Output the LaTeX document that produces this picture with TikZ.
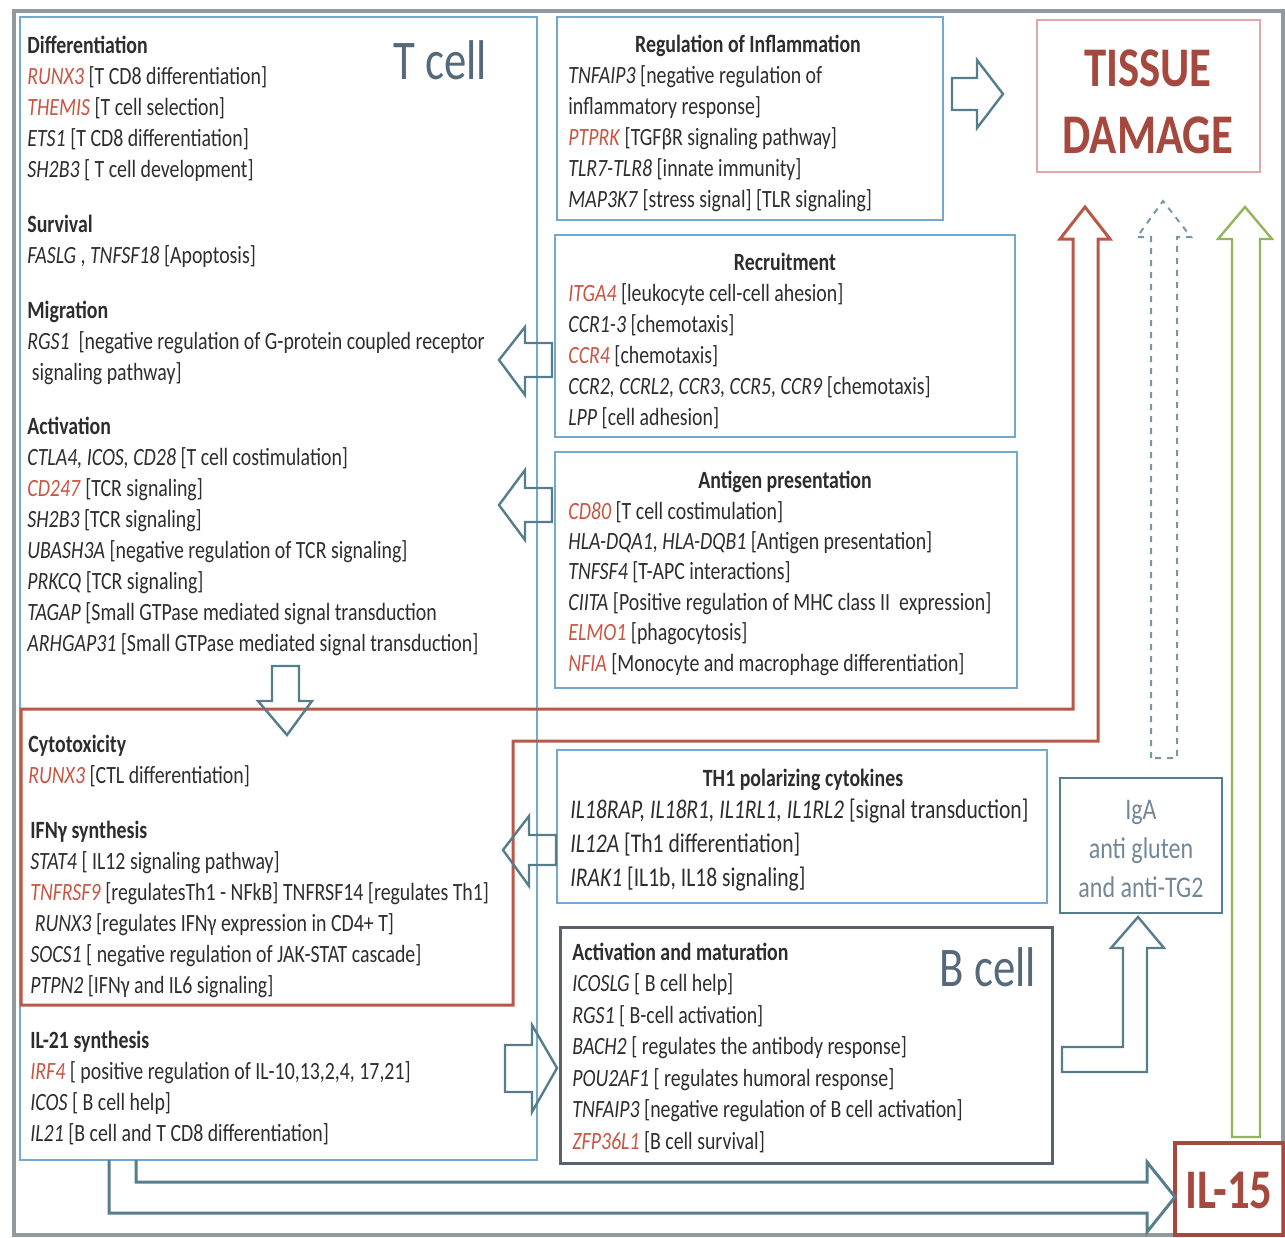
\documentclass[tikz,border=0pt]{standalone}
\usepackage{fontspec}
\setmainfont{Carlito}[FakeStretch=0.8]
\usepackage{xcolor}
\usepackage{tikz}

\definecolor{tblue}{RGB}{115,168,208}
\definecolor{arrgray}{RGB}{85,125,140}
\definecolor{redline}{RGB}{185,88,72}
\definecolor{genered}{RGB}{200,85,65}
\definecolor{tissuered}{RGB}{165,72,62}
\definecolor{pinkline}{RGB}{228,165,165}
\definecolor{greenline}{RGB}{145,182,90}
\definecolor{framegray}{RGB}{145,152,158}
\definecolor{bboxgray}{RGB}{88,98,108}
\definecolor{celltxt}{RGB}{85,105,120}
\definecolor{igatxt}{RGB}{115,135,150}
\definecolor{bodytxt}{RGB}{45,45,45}

\newcommand{\gn}[1]{\textit{#1}}
\newcommand{\rg}[1]{\textcolor{genered}{\textit{#1}}}

\begin{document}
\begin{tikzpicture}[x=0.5pt,y=-0.5pt,
  % base of a multi-line node = baseline of its last line
  txt/.style={anchor=base west,align=left,inner sep=0pt,text=bodytxt,font=\fontsize{12.4}{15.5}\selectfont},
  hd/.style={anchor=base,inner sep=0pt,text=bodytxt,font=\fontsize{12.4}{15.5}\selectfont\bfseries},
  big/.style={inner sep=0pt,text=celltxt,font=\fontsize{28}{30}\selectfont},
  blockarr/.style={draw=arrgray,line width=1.2pt,line join=miter}]
  \useasboundingbox (0,0) rectangle (1285,1237);
  % frames
  \draw[framegray,line width=2pt] (14,11) rectangle (1283,1235);
  \draw[tblue,line width=1pt] (20,17) rectangle (537,1160);
  \draw[tblue,line width=1.2pt] (557,17) rectangle (943,220);
  \draw[tblue,line width=1.2pt] (555,235) rectangle (1015,437);
  \draw[tblue,line width=1.2pt] (555,452) rectangle (1017,688);
  \draw[tblue,line width=1.2pt] (557,750) rectangle (1047,903);
  \draw[bboxgray,line width=1.5pt] (560,927) rectangle (1052,1163);
  \draw[pinkline,line width=0.8pt] (1037,20) rectangle (1260,172);
  \draw[arrgray,line width=1.2pt] (1060,778) rectangle (1222,913);
  \draw[tissuered,line width=2pt] (1175,1143) rectangle (1284,1235);

  % red box joined to its arrow
  \draw[redline,line width=1.5pt,line join=miter] (21,709) -- (1073,709) -- (1073,239) -- (1060,239)
    -- (1085,207) -- (1110,239) -- (1098,239) -- (1098,741) -- (513,741) -- (513,1005) -- (21,1005) -- cycle;
  \draw[arrgray!80,line width=1pt,dashed] (1151,758) -- (1151,237) -- (1137,237) -- (1163,201)
    -- (1191,237) -- (1177,237) -- (1177,758) -- cycle;
  \draw[greenline,line width=1.2pt,line join=miter] (1232,1137) -- (1232,239) -- (1218,239) -- (1245,207)
    -- (1272,239) -- (1260,239) -- (1260,1137) -- cycle;

  % block arrows
  \draw[blockarr] (952,78) -- (977,78) -- (977,60) -- (1003,94) -- (977,128) -- (977,110) -- (952,110) -- cycle;
  \draw[blockarr] (552,343) -- (525,343) -- (525,327) -- (499,360) -- (525,395) -- (525,377) -- (552,377) -- cycle;
  \draw[blockarr] (552,488) -- (525,488) -- (525,470) -- (499,505) -- (525,540) -- (525,522) -- (552,522) -- cycle;
  \draw[blockarr] (272,666) -- (299,666) -- (299,701) -- (312,701) -- (287,735) -- (258,701) -- (272,701) -- cycle;
  \draw[blockarr] (556,835) -- (529,835) -- (529,816) -- (503,850) -- (529,886) -- (529,865) -- (556,865) -- cycle;
  \draw[blockarr] (505,1045) -- (532,1045) -- (532,1025) -- (557,1068) -- (532,1112) -- (532,1092) -- (505,1092) -- cycle;
  \draw[blockarr] (1062,1047) -- (1123,1047) -- (1123,948) -- (1111,948) -- (1138,917) -- (1164,948)
    -- (1147,948) -- (1147,1072) -- (1062,1072) -- cycle;
  \draw[blockarr,line width=1.5pt] (136,1160) -- (136,1182) -- (1147,1182) -- (1147,1162) -- (1175,1197)
    -- (1147,1232) -- (1147,1213) -- (109,1213) -- (109,1160);

  % T cell side
  \node[big] (tlab) at (440,60) {T cell};
  \node[txt] (tdiff) at (27,177) {\textbf{Differentiation}\\
    \rg{RUNX3} [T CD8 differentiation]\\
    \rg{THEMIS} [T cell selection]\\
    \gn{ETS1} [T CD8 differentiation]\\
    \gn{SH2B3} [ T cell development]};
  \node[txt] (tsurv) at (27,263) {\textbf{Survival}\\
    \gn{FASLG} , \gn{TNFSF18} [Apoptosis]};
  \node[txt] (tmigr) at (27,380) {\textbf{Migration}\\
    \gn{RGS1}\ \ [negative regulation of G-protein coupled receptor\\
    \ signaling pathway]};
  \node[txt] (tact) at (27,651) {\textbf{Activation}\\
    \gn{CTLA4, ICOS, CD28} [T cell costimulation]\\
    \rg{CD247} [TCR signaling]\\
    \gn{SH2B3} [TCR signaling]\\
    \gn{UBASH3A} [negative regulation of TCR signaling]\\
    \gn{PRKCQ} [TCR signaling]\\
    \gn{TAGAP} [Small GTPase mediated signal transduction\\
    \gn{ARHGAP31} [Small GTPase mediated signal transduction]};
  \node[txt] (cyto) at (28,783) {\textbf{Cytotoxicity}\\
    \rg{RUNX3} [CTL differentiation]};
  \node[txt] (ifng) at (30,993) {\textbf{IFNγ synthesis}\\
    \gn{STAT4} [ IL12 signaling pathway]\\
    \rg{TNFRSF9} [regulatesTh1 - NFkB] TNFRSF14 [regulates Th1]\\
    \ \gn{RUNX3} [regulates IFNγ expression in CD4+ T]\\
    \gn{SOCS1} [ negative regulation of JAK-STAT cascade]\\
    \gn{PTPN2} [IFNγ and IL6 signaling]};
  \node[txt] (il21) at (30,1141) {\textbf{IL-21 synthesis}\\
    \rg{IRF4} [ positive regulation of IL-10,13,2,4, 17,21]\\
    \gn{ICOS} [ B cell help]\\
    \gn{IL21} [B cell and T CD8 differentiation]};

  % middle column
  \node[hd] (inflh) at (748,52) {Regulation of Inflammation};
  \node[txt] (infl) at (568,207) {\gn{TNFAIP3} [negative regulation of\\
    inflammatory response]\\
    \rg{PTPRK} [TGFβR signaling pathway]\\
    \gn{TLR7-TLR8} [innate immunity]\\
    \gn{MAP3K7} [stress signal] [TLR signaling]};
  \node[hd] (recrh) at (785,270) {Recruitment};
  \node[txt] (recr) at (568,425) {\rg{ITGA4} [leukocyte cell-cell ahesion]\\
    \gn{CCR1-3} [chemotaxis]\\
    \rg{CCR4} [chemotaxis]\\
    \gn{CCR2, CCRL2, CCR3, CCR5, CCR9} [chemotaxis]\\
    \gn{LPP} [cell adhesion]};
  \node[hd] (antih) at (785,488) {Antigen presentation};
  \node[txt,font=\fontsize{12.4}{15.2}\selectfont] (anti) at (568,671) {\rg{CD80} [T cell costimulation]\\
    \gn{HLA-DQA1, HLA-DQB1} [Antigen presentation]\\
    \gn{TNFSF4} [T-APC interactions]\\
    \gn{CIITA} [Positive regulation of MHC class II\ \ expression]\\
    \rg{ELMO1} [phagocytosis]\\
    \rg{NFIA} [Monocyte and macrophage differentiation]};
  \node[hd] (th1h) at (803,786) {TH1 polarizing cytokines};
  \node[txt,font=\fontsize{13.5}{17}\selectfont] (th1) at (570,886) {\gn{IL18RAP, IL18R1, IL1RL1, IL1RL2} [signal transduction]\\
    \gn{IL12A} [Th1 differentiation]\\
    \gn{IRAK1} [IL1b, IL18 signaling]};
  \node[big] (blab) at (988,967) {B cell};
  \node[txt,font=\fontsize{12.4}{15.75}\selectfont] (bact) at (572,1149) {\textbf{Activation and maturation}\\
    \gn{ICOSLG} [ B cell help]\\
    \gn{RGS1} [ B-cell activation]\\
    \gn{BACH2} [ regulates the antibody response]\\
    \gn{POU2AF1} [ regulates humoral response]\\
    \gn{TNFAIP3} [negative regulation of B cell activation]\\
    \rg{ZFP36L1} [B cell survival]};

  % right column
  \node[inner sep=0pt,text=tissuered,font=\fontsize{28}{30}\selectfont\bfseries] (tissue) at (1148,68) {TISSUE};
  \node[inner sep=0pt,text=tissuered,font=\fontsize{28}{30}\selectfont\bfseries] (damage) at (1148,135) {DAMAGE};
  \node[inner sep=0pt,align=center,text=igatxt,font=\fontsize{15}{19.5}\selectfont] (iga) at (1141,849) {IgA\\ anti gluten\\ and anti-TG2};
  \node[inner sep=0pt,text=tissuered,font=\fontsize{28}{30}\selectfont\bfseries] (il15) at (1229,1190) {IL-15};
\end{tikzpicture}
\end{document}
